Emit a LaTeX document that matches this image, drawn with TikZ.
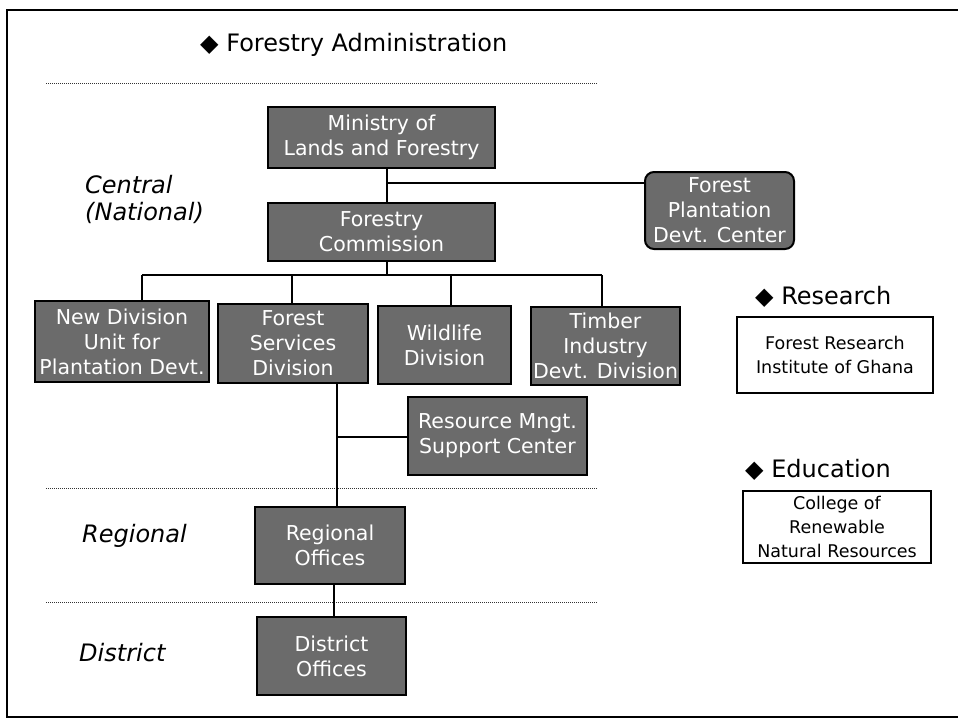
\documentclass[tikz,border=0pt]{standalone}
\usepackage{fontspec}
\setmainfont{DejaVu Sans}
\begin{document}
\begin{tikzpicture}[x=1pt,y=-1pt,
  gbox/.style={draw=black,line width=2pt,fill=black!58,text=white,inner sep=0pt,align=center,font=\fontsize{20.5}{25}\selectfont},
  wbox/.style={draw=black,line width=1.8pt,fill=white,text=black,inner sep=0pt,align=center,font=\fontsize{17.5}{24}\selectfont},
  conn/.style={draw=black,line width=1.6pt},
  sep/.style={draw=black!80,line width=1pt,densely dotted},
  head/.style={anchor=west,inner sep=0pt,font=\fontsize{24}{28}\selectfont},
  lvl/.style={anchor=west,inner sep=0pt,align=left,font=\fontsize{24}{27}\selectfont\itshape}]
\useasboundingbox (0,0) rectangle (958,724);
% frame
\draw[line width=2pt] (960,10) -- (7,10) -- (7,717) -- (960,717);
% separators
\draw[sep] (46,83) -- (598,83);
\draw[sep] (46,488) -- (598,488);
\draw[sep] (46,602) -- (598,602);
% headings
\node[head] (tadm) at (200,45) {◆ Forestry Administration};
\node[head] (tres) at (755,297) {◆ Research};
\node[head] (tedu) at (745,470) {◆ Education};
% level labels
\node[lvl] (lcen) at (85,199) {Central\\(National)};
\node[lvl] (lreg) at (82,536) {Regional};
\node[lvl] (ldis) at (79,653) {District};
% boxes
\node[gbox,minimum width=227pt,minimum height=61pt] (min) at (381.5,137.5) {Ministry of\\Lands and Forestry};
\node[gbox,minimum width=227pt,minimum height=58pt] (fc) at (381.5,232) {Forestry\\Commission};
\node[gbox,rounded corners=9pt,minimum width=149pt,minimum height=77pt] (fpdc) at (719.5,210.5) {Forest\\Plantation\\Devt. Center};
\node[gbox,minimum width=174pt,minimum height=81pt] (nd) at (122,341.5) {New Division\\Unit for\\Plantation Devt.};
\node[gbox,minimum width=150pt,minimum height=79pt] (fsd) at (293,343.5) {Forest\\Services\\Division};
\node[gbox,minimum width=133pt,minimum height=78pt] (wd) at (444.5,345) {Wildlife\\Division};
\node[gbox,minimum width=149pt,minimum height=78pt] (tid) at (605.5,346) {Timber\\Industry\\Devt. Division};
\node[gbox,minimum width=179pt,minimum height=78pt] (rms) at (497.5,436) {Resource Mngt.\\Support Center};
\node[gbox,minimum width=150pt,minimum height=77pt] (ro) at (330,545.5) {Regional\\Offices};
\node[gbox,minimum width=149pt,minimum height=78pt] (do) at (331.5,656) {District\\Offices};
\node[wbox,minimum width=196pt,minimum height=76pt] (fri) at (835,355) {Forest Research\\Institute of Ghana};
\node[wbox,minimum width=188pt,minimum height=72pt] (crn) at (837,527) {College of\\Renewable\\Natural Resources};
% junction coordinates
\coordinate (j1) at (387,183);
\coordinate (bus) at (387,275);
\coordinate (b1) at (142,275);
\coordinate (b2) at (292,275);
\coordinate (b3) at (451,275);
\coordinate (b4) at (602,275);
\coordinate (rx) at (337,437);
\coordinate (dx) at (334,600);
% connectors
\draw[conn] (min.south -| j1) -- (fc.north -| j1);
\draw[conn] (j1) -- (j1 -| fpdc.west);
\draw[conn] (fc.south -| bus) -- (bus);
\draw[conn] (b1) -- (b4);
\draw[conn] (b1) -- (b1 |- nd.north);
\draw[conn] (b2) -- (b2 |- fsd.north);
\draw[conn] (b3) -- (b3 |- wd.north);
\draw[conn] (b4) -- (b4 |- tid.north);
\draw[conn] (fsd.south -| rx) -- (ro.north -| rx);
\draw[conn] (rx) -- (rx -| rms.west);
\draw[conn] (ro.south -| dx) -- (do.north -| dx);
\end{tikzpicture}
\end{document}
